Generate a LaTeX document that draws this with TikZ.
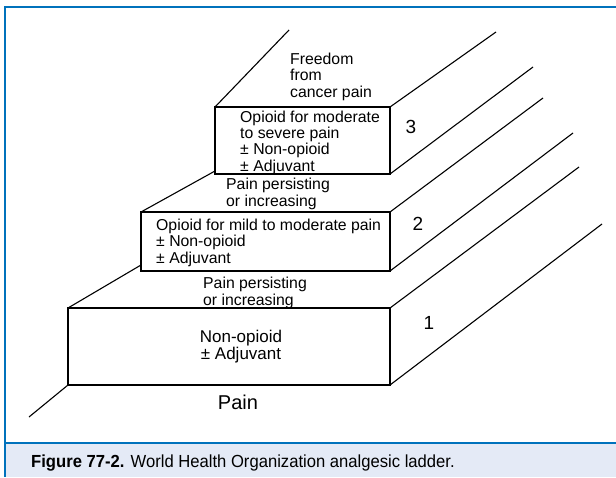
\documentclass[tikz,border=0pt]{standalone}
\usepackage{fontspec}
\setmainfont{Liberation Sans}
\newfontfamily\capfont[FakeStretch=0.95]{Liberation Sans}
\usetikzlibrary{calc}
\definecolor{frameblue}{RGB}{0,114,188}
\definecolor{capband}{RGB}{228,234,246}

\begin{document}
\begin{tikzpicture}[x=1pt, y=-1pt,
    stepbox/.style={draw, line width=1.2pt, inner sep=0pt, outer sep=0pt, anchor=north west},
    edge/.style={line width=1.1pt},
    steptext/.style={anchor=base west, align=left, inner sep=0pt, font=\fontsize{15.8}{16.2}\selectfont},
    stepnum/.style={inner sep=0pt, font=\fontsize{19}{19}\selectfont}]
    \useasboundingbox (0,0) rectangle (616,477);
    % Frame and caption band
    \fill[capband] (5,443) rectangle (616,477);
    \draw[frameblue, line width=2pt] (616,6.5) -- (5,6.5) -- (5,477);
    \draw[frameblue, line width=2pt] (5,443) -- (616,443);
    \node[anchor=base west, inner sep=0pt, font=\capfont\fontsize{17.5}{18}\selectfont] (cap) at (31,467) {\textbf{Figure 77-2.} World Health Organization analgesic ladder.};
    % Front faces of the steps
    \node[stepbox, minimum width=322pt, minimum height=77pt] (b1) at (68,308) {};
    \node[stepbox, minimum width=249pt, minimum height=59pt] (b2) at (141,212) {};
    \node[stepbox, minimum width=175pt, minimum height=67pt] (b3) at (215,107) {};
    % Receding edges on the right
    \foreach \n/\a/\dx/\dy in {b3/north east/106/75, b3/south east/143/107,
        b2/north east/153/114, b2/south east/183/138,
        b1/north east/189/141, b1/south east/212/161}
      \draw[edge] (\n.\a) -- ++(\dx,-\dy);
    % Receding edges on the left
    \draw[edge] (b1.south west) -- ++(-39,32);
    \draw[edge] (b1.north west) -- ($(b2.south west)+(0,-6)$);
    \draw[edge] (b2.north west) -- ($(b3.south west)+(0,-3)$);
    \draw[edge] (b3.north west) -- ++(74,-77);
    % Labels (placed at the baseline of their last line)
    \node[steptext] (free) at (290,97) {Freedom\\from\\cancer pain};
    \node[steptext] (t3) at (240,171) {Opioid for moderate\\to severe pain\\± Non-opioid\\± Adjuvant};
    \node[steptext] (p2) at (226,206) {Pain persisting\\or increasing};
    \node[steptext] (t2) at (156,263) {Opioid for mild to moderate pain\\± Non-opioid\\± Adjuvant};
    \node[steptext] (p1) at (203,305) {Pain persisting\\or increasing};
    \node[steptext, anchor=base, align=center, font=\fontsize{17}{17}\selectfont] (t1) at (241,359) {Non-opioid\\± Adjuvant};
    \node[inner sep=0pt, font=\fontsize{20}{20}\selectfont] (pain) at (238,402) {Pain};
    \node[stepnum] (n1) at (429,323) {1};
    \node[stepnum] (n2) at (418,224) {2};
    \node[stepnum] (n3) at (411,127) {3};
\end{tikzpicture}
\end{document}
